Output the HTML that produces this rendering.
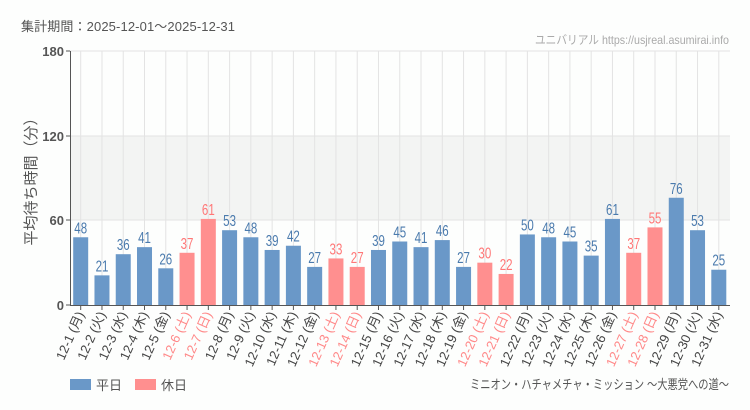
<!DOCTYPE html>
<html><head><meta charset="utf-8"><style>
html,body{margin:0;padding:0;background:#fdfefd;width:750px;height:410px;overflow:hidden}
svg{display:block;font-family:"Liberation Sans","Noto Sans CJK JP",sans-serif}
</style></head><body>
<svg id="s" width="750" height="410" xmlns="http://www.w3.org/2000/svg">
<text x="21" y="31" font-size="13" fill="#555" textLength="214">集計期間：2025-12-01～2025-12-31</text>
<text x="535" y="44" font-size="12" fill="#aaa" textLength="194" lengthAdjust="spacingAndGlyphs">ユニバリアル  https://usjreal.asumirai.info</text>
<rect x="70" y="136" width="660" height="84" fill="#f3f4f3"/>
<line x1="70" y1="51" x2="730" y2="51" stroke="#e3e3e3"/>
<line x1="70" y1="136" x2="730" y2="136" stroke="#e3e3e3"/>
<line x1="70" y1="220" x2="730" y2="220" stroke="#e3e3e3"/>
<g id="g"></g>
<line x1="70.5" y1="51" x2="70.5" y2="305" stroke="#555"/>
<line x1="70" y1="305.5" x2="730" y2="305.5" stroke="#555"/>
<g font-size="13" font-weight="bold" fill="#555" text-anchor="end">
<text x="64" y="56">180</text><line x1="66" y1="51" x2="70" y2="51" stroke="#555"/>
<text x="64" y="141">120</text><line x1="66" y1="136" x2="70" y2="136" stroke="#555"/>
<text x="64" y="225">60</text><line x1="66" y1="220" x2="70" y2="220" stroke="#555"/>
<text x="64" y="310">0</text><line x1="66" y1="305" x2="70" y2="305" stroke="#555"/>
</g>
<text transform="translate(36,178) rotate(-90)" font-size="15" fill="#555" text-anchor="middle">平均待ち時間（分）</text>
<rect x="70" y="379" width="21" height="11" fill="#6a98c8"/>
<text x="96" y="390" font-size="13" fill="#555">平日</text>
<rect x="135" y="379" width="21" height="11" fill="#ff8f8f"/>
<text x="161" y="390" font-size="13" fill="#555">休日</text>
<text x="470" y="389" font-size="13" fill="#555" textLength="259" lengthAdjust="spacingAndGlyphs">ミニオン・ハチャメチャ・ミッション ～大悪党への道～</text>
</svg>
<script>
var v=[48,21,36,41,26,37,61,53,48,39,42,27,33,27,39,45,41,46,27,30,22,50,48,45,35,61,37,55,76,53,25];
var wd="月火水木金土日",g=document.getElementById('g'),h='';
for(var i=0;i<31;i++){var cx=80.7+i*21.27;h+='<line x1="'+cx+'" y1="51" x2="'+cx+'" y2="305" stroke="#e3e3e3"/>';}
for(var i=0;i<31;i++){var cx=80.7+i*21.27,w=(i+0)%7,we=(w==5||w==6);
var y=305-v[i]*254/180;
h+='<rect x="'+(cx-7.5)+'" y="'+y+'" width="15" height="'+(305-y)+'" fill="'+(we?'#ff8f8f':'#6a98c8')+'"/>';
h+='<text transform="translate('+cx+','+(y-4)+') scale(0.72,1)" font-size="16" text-anchor="middle" fill="'+(we?'#f77':'#4a7aad')+'">'+v[i]+'</text>';
h+='<line x1="'+cx+'" y1="305" x2="'+cx+'" y2="310" stroke="#555"/>';
h+='<text transform="translate('+(cx+4)+',314) rotate(-66)" font-size="13" text-anchor="end" fill="'+(we?'#f88':'#444')+'">12-'+(i+1)+' ('+wd[w]+')</text>';}
g.innerHTML=h;
</script>
</body></html>
